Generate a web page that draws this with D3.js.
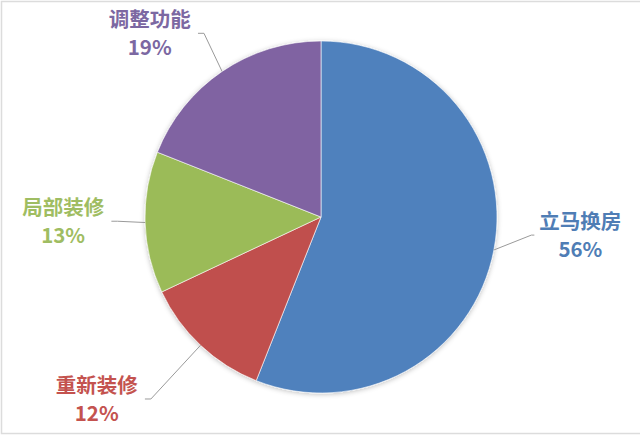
<!DOCTYPE html>
<html>
  <head>
    <meta charset="utf-8">
    <title>换房意向</title>
    <script src="https://d3js.org/d3.v7.min.js"></script>
    <style>
      body { margin: 0; background: #ffffff; }
      .lbl { font-family: "Noto Sans CJK SC", "Noto Sans", sans-serif; font-size: 20.5px; font-weight: 700; }
    </style>
  </head>
  <body>
    <script>
      var categories = ["立马换房", "重新装修", "局部装修", "调整功能"];
      var values = [56, 12, 13, 19];
      var percentLabels = ["56%", "12%", "13%", "19%"];
      var colors = ["#4f81bd", "#c0504d", "#9bbb59", "#8064a2"];
      var textColors = ["#4f7db5", "#c4534f", "#9fbd62", "#7c68a2"];

      var width = 640;
      var height = 437;
      var cx = 321, cy = 217, radius = 176;

      // label nudges away from the plain mid-angle position
      var nudge = [[2, -31], [-45, -9], [4, -4], [-24, 33]];
      var labelRadius = 262;

      var svg = d3.select("body")
        .append("svg")
        .attr("width", width)
        .attr("height", height);

      // faint frame round the picture
      svg.append("rect")
        .attr("x", 1.5).attr("y", 1.5)
        .attr("width", width + 5).attr("height", height - 5)
        .attr("fill", "none")
        .attr("stroke", "#dcdcdc")
        .attr("stroke-width", 1.5);

      var defs = svg.append("defs");
      var shadow = defs.append("filter").attr("id", "glow")
        .attr("x", "-10%").attr("y", "-10%").attr("width", "120%").attr("height", "120%");
      shadow.append("feGaussianBlur").attr("in", "SourceAlpha").attr("stdDeviation", 2.5);
      shadow.append("feOffset").attr("dx", 0).attr("dy", 1).attr("result", "b");
      shadow.append("feFlood").attr("flood-color", "#000").attr("flood-opacity", 0.25);
      shadow.append("feComposite").attr("in2", "b").attr("operator", "in");
      var merge = shadow.append("feMerge");
      merge.append("feMergeNode");
      merge.append("feMergeNode").attr("in", "SourceGraphic");

      var pie = d3.pie().sort(null).value(function(d) { return d; });
      var arcs = pie(values);

      var arc = d3.arc().innerRadius(0).outerRadius(radius);

      var g = svg.append("g").attr("transform", `translate(${cx},${cy})`);

      g.append("g").attr("filter", "url(#glow)")
        .selectAll("path")
        .data(arcs)
        .enter()
        .append("path")
          .attr("d", arc)
          .attr("fill", function(d, i) { return colors[i]; })
          .attr("stroke", "#ffffff")
          .attr("stroke-width", 0.6);

      function mid(d) { return (d.startAngle + d.endAngle) / 2; }

      arcs.forEach(function(d, i) {
        var a = mid(d);
        var lx = labelRadius * Math.sin(a) + nudge[i][0];
        var ly = -labelRadius * Math.cos(a) + nudge[i][1];

        var t = g.append("text")
          .attr("class", "lbl")
          .attr("text-anchor", "middle")
          .attr("fill", textColors[i]);
        t.append("tspan").attr("x", lx).attr("y", ly - 6).text(categories[i]);
        t.append("tspan").attr("x", lx).attr("y", ly + 22).text(percentLabels[i]);

        var half = t.node().getBBox().width / 2;
        var right = Math.sin(a) > 0;
        var endX = right ? lx - half - 5 : lx + half + 7;
        var elbowX = right ? endX - 3 : endX + 6;
        var px = radius * Math.sin(a), py = -radius * Math.cos(a);

        g.append("polyline")
          .attr("points", [[px, py], [elbowX, ly], [endX, ly]].map(function(p) { return p.join(","); }).join(" "))
          .attr("fill", "none")
          .attr("stroke", "#9a9a9a")
          .attr("stroke-width", 1);
      });
    </script>
  </body>
</html>
